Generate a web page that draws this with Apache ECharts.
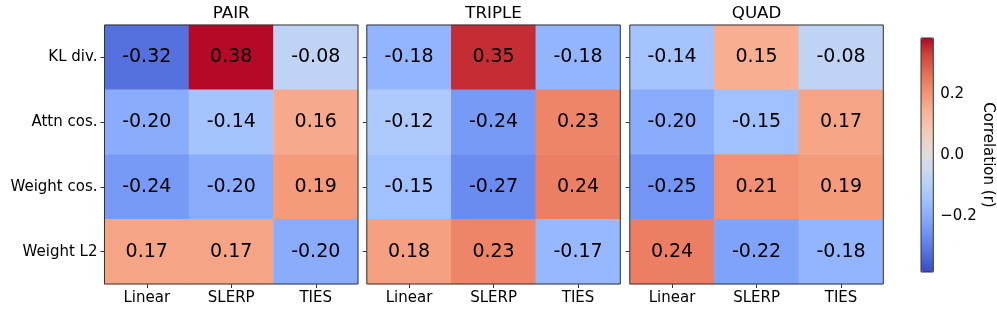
<!DOCTYPE html>
<html>
<head>
<meta charset="utf-8">
<script src="https://cdn.jsdelivr.net/npm/echarts@6/dist/echarts.min.js"></script>
<style>html,body{margin:0;padding:0;background:#fff}#c{width:997px;height:313px}</style>
</head>
<body>
<div id="c"></div>
<script>
// ---- data ----
const panels = ['PAIR', 'TRIPLE', 'QUAD'];
const methods = ['Linear', 'SLERP', 'TIES'];
const metrics = ['KL div.', 'Attn cos.', 'Weight cos.', 'Weight L2'];
// rows = metrics, cols = methods
const pairVals = [
  [-0.32, 0.38, -0.08],
  [-0.20, -0.14, 0.16],
  [-0.24, -0.20, 0.19],
  [0.17, 0.17, -0.20]
];
const tripleVals = [
  [-0.18, 0.35, -0.18],
  [-0.12, -0.24, 0.23],
  [-0.15, -0.27, 0.24],
  [0.18, 0.23, -0.17]
];
const quadVals = [
  [-0.14, 0.15, -0.08],
  [-0.20, -0.15, 0.17],
  [-0.25, 0.21, 0.19],
  [0.24, -0.22, -0.18]
];
const colorbarTicks = [-0.2, 0.0, 0.2];
const vLimit = 0.384;
const colorbarName = 'Correlation (r)';

// ---- style / layout ----
const FONT = 'DejaVu Sans';
const coolwarm = ['#3b4cc0','#4d68d7','#6282ea','#779af7','#8db0fe','#a3c2ff','#b8d0f9','#ccd9ee','#dddddd',
                  '#ecd3c5','#f5c4ad','#f7b194','#f49a7b','#ec7f63','#de604d','#cb3e38','#b40426'];
const gridBoxes = [
  {left: 104.5, top: 25, width: 253.5, height: 259},
  {left: 366.8, top: 25, width: 253.5, height: 259},
  {left: 629.8, top: 25, width: 253.5, height: 259}
];
const cbBox = {left: 921, top: 38, width: 12.3, height: 234};
const allVals = [pairVals, tripleVals, quadVals];

const grids = [], xAxes = [], yAxes = [], series = [], graphics = [];
gridBoxes.forEach((g, i) => {
  grids.push({left: g.left, top: g.top, width: g.width, height: g.height, containLabel: false});
  xAxes.push({
    type: 'category', gridIndex: i, data: methods, position: 'bottom',
    axisLine: {show: false}, splitLine: {show: false},
    axisTick: {show: true, alignWithLabel: true, length: 4, lineStyle: {color: '#333'}},
    axisLabel: {fontFamily: FONT, fontSize: 15, color: '#000', margin: 7}
  });
  yAxes.push({
    type: 'category', gridIndex: i, data: metrics, inverse: true,
    axisLine: {show: false}, splitLine: {show: false},
    axisTick: {show: true, alignWithLabel: true, length: 4, lineStyle: {color: '#333'}},
    axisLabel: {show: i === 0, fontFamily: FONT, fontSize: 15, color: '#000', margin: 7}
  });
  const data = [];
  allVals[i].forEach((row, r) => row.forEach((v, c) => data.push([c, r, v])));
  series.push({
    type: 'heatmap', xAxisIndex: i, yAxisIndex: i, data: data,
    label: {show: true, fontFamily: FONT, fontSize: 19, color: '#000',
            formatter: p => p.value[2].toFixed(2)},
    itemStyle: {borderWidth: 0},
    emphasis: {disabled: true}
  });
  graphics.push({
    type: 'rect', z: 100, silent: true,
    shape: {x: g.left, y: g.top, width: g.width, height: g.height},
    style: {fill: null, stroke: '#333', lineWidth: 1}
  });
  graphics.push({
    type: 'text', z: 100, silent: true,
    style: {text: panels[i], x: g.left + g.width / 2, y: 14, align: 'center', verticalAlign: 'middle',
            font: '16.7px "DejaVu Sans"', fill: '#000'}
  });
});

// colorbar axis grid
grids.push({left: cbBox.left, top: cbBox.top, width: cbBox.width, height: cbBox.height});
xAxes.push({type: 'value', gridIndex: 3, show: false, min: 0, max: 1});
yAxes.push({
  type: 'value', gridIndex: 3, position: 'right', min: -vLimit, max: vLimit,
  axisLine: {show: false}, splitLine: {show: false},
  axisTick: {show: true, length: 4, customValues: colorbarTicks, lineStyle: {color: '#333'}},
  axisLabel: {fontFamily: FONT, fontSize: 15, color: '#000', margin: 7, customValues: colorbarTicks,
              formatter: v => (v < 0 ? '\u2212' : '') + Math.abs(v).toFixed(1)},
  name: colorbarName, nameLocation: 'middle', nameRotate: -90, nameGap: 41,
  nameTextStyle: {fontFamily: FONT, fontSize: 15, color: '#000'}
});
series.push({type: 'scatter', xAxisIndex: 3, yAxisIndex: 3, data: [], silent: true});
graphics.push({
  type: 'rect', z: 100, silent: true,
  shape: {x: cbBox.left, y: cbBox.top, width: cbBox.width, height: cbBox.height},
  style: {fill: null, stroke: '#333', lineWidth: 1}
});

const chart = echarts.init(document.getElementById('c'), null, {renderer: 'canvas'});
chart.setOption({
  animation: false,
  backgroundColor: '#fff',
  grid: grids, xAxis: xAxes, yAxis: yAxes, series: series,
  visualMap: {
    type: 'continuous', seriesIndex: [0, 1, 2], dimension: 2,
    min: -vLimit, max: vLimit, calculable: false, orient: 'vertical',
    left: cbBox.left, top: cbBox.top, itemWidth: cbBox.width, itemHeight: cbBox.height,
    padding: 0, hoverLink: false,
    inRange: {color: coolwarm}
  },
  graphic: graphics
});
</script>
</body>
</html>
